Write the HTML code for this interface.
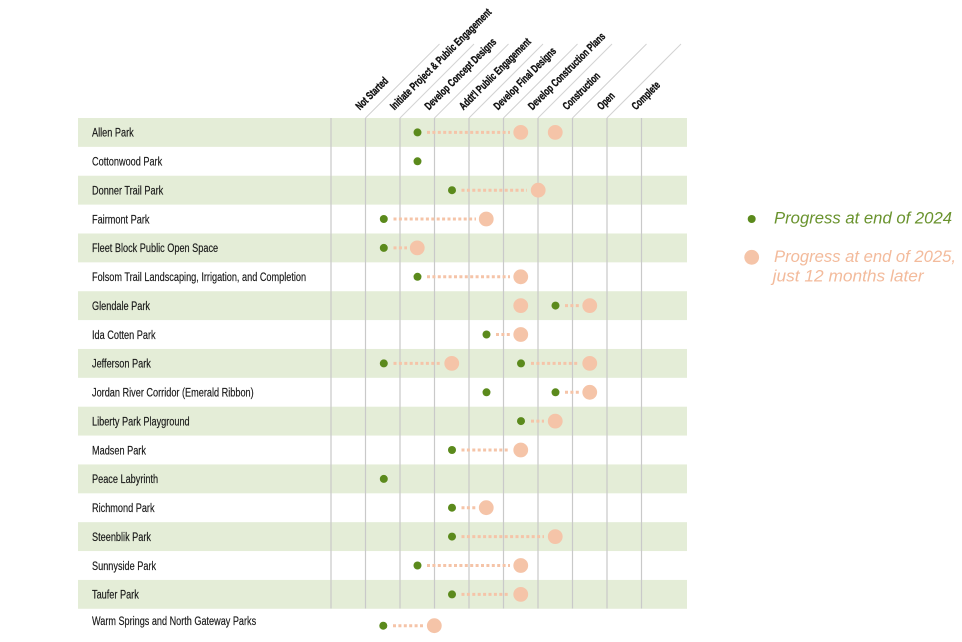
<!DOCTYPE html>
<html><head><meta charset="utf-8"><style>
html,body{margin:0;padding:0;background:#fff;}
svg{display:block;}
.lbl{font-family:"Liberation Sans",sans-serif;font-size:12px;fill:#161616;stroke:#161616;stroke-width:0.15;}
.hd{font-family:"Liberation Sans",sans-serif;font-size:11px;font-weight:bold;fill:#111;stroke:#111;stroke-width:0.35;}
.lg{font-family:"Liberation Sans",sans-serif;font-style:italic;font-size:16.5px;}
</style></head><body>
<svg width="962" height="642" viewBox="0 0 962 642" xmlns="http://www.w3.org/2000/svg">
<!-- bands -->
<g fill="#e4edd7">
<rect x="78" y="118" width="609" height="28.87"/>
<rect x="78" y="175.74" width="609" height="28.87"/>
<rect x="78" y="233.48" width="609" height="28.87"/>
<rect x="78" y="291.22" width="609" height="28.87"/>
<rect x="78" y="348.96" width="609" height="28.87"/>
<rect x="78" y="406.7" width="609" height="28.87"/>
<rect x="78" y="464.44" width="609" height="28.87"/>
<rect x="78" y="522.18" width="609" height="28.87"/>
<rect x="78" y="579.92" width="609" height="28.87"/>
</g>
<!-- vertical lines -->
<g stroke="#c9c9c9" stroke-width="1.2">
<line x1="331" y1="118" x2="331" y2="608.5"/>
<line x1="365.5" y1="118" x2="365.5" y2="608.5"/>
<line x1="400" y1="118" x2="400" y2="608.5"/>
<line x1="434.5" y1="118" x2="434.5" y2="608.5"/>
<line x1="469" y1="118" x2="469" y2="608.5"/>
<line x1="503.5" y1="118" x2="503.5" y2="608.5"/>
<line x1="538" y1="118" x2="538" y2="608.5"/>
<line x1="572.5" y1="118" x2="572.5" y2="608.5"/>
<line x1="607" y1="118" x2="607" y2="608.5"/>
<line x1="641.5" y1="118" x2="641.5" y2="608.5"/>
</g>
<!-- diagonals -->
<g stroke="#d2d2d2" stroke-width="1">
<line x1="365.5" y1="118" x2="439.5" y2="44"/>
<line x1="400" y1="118" x2="474" y2="44"/>
<line x1="434.5" y1="118" x2="508.5" y2="44"/>
<line x1="469" y1="118" x2="543" y2="44"/>
<line x1="503.5" y1="118" x2="577.5" y2="44"/>
<line x1="538" y1="118" x2="612" y2="44"/>
<line x1="572.5" y1="118" x2="646.5" y2="44"/>
<line x1="607" y1="118" x2="681" y2="44"/>
</g>
<!-- headers -->
<g class="hd">
<text transform="translate(360,110.5) rotate(-45) scale(0.69,1)">Not Started</text>
<text transform="translate(394.5,110.5) rotate(-45) scale(0.72,1)">Initiate Project &amp; Public Engagement</text>
<text transform="translate(429,110.5) rotate(-45) scale(0.71,1)">Develop Concept Designs</text>
<text transform="translate(463.5,110.5) rotate(-45) scale(0.71,1)">Addt'l Public Engagement</text>
<text transform="translate(498,110.5) rotate(-45) scale(0.71,1)">Develop Final Designs</text>
<text transform="translate(532.5,110.5) rotate(-45) scale(0.71,1)">Develop Construction Plans</text>
<text transform="translate(567,110.5) rotate(-45) scale(0.70,1)">Construction</text>
<text transform="translate(601.5,110.5) rotate(-45) scale(0.70,1)">Open</text>
<text transform="translate(636,110.5) rotate(-45) scale(0.70,1)">Complete</text>
</g>
<!-- row labels -->
<g class="lbl">
<text transform="translate(92,136.7) scale(0.764,1)">Allen Park</text>
<text transform="translate(92,165.6) scale(0.764,1)">Cottonwood Park</text>
<text transform="translate(92,194.5) scale(0.764,1)">Donner Trail Park</text>
<text transform="translate(92,223.3) scale(0.764,1)">Fairmont Park</text>
<text transform="translate(92,252.2) scale(0.764,1)">Fleet Block Public Open Space</text>
<text transform="translate(92,281.1) scale(0.764,1)">Folsom Trail Landscaping, Irrigation, and Completion</text>
<text transform="translate(92,309.9) scale(0.764,1)">Glendale Park</text>
<text transform="translate(92,338.8) scale(0.764,1)">Ida Cotten Park</text>
<text transform="translate(92,367.7) scale(0.764,1)">Jefferson Park</text>
<text transform="translate(92,396.6) scale(0.764,1)">Jordan River Corridor (Emerald Ribbon)</text>
<text transform="translate(92,425.4) scale(0.764,1)">Liberty Park Playground</text>
<text transform="translate(92,454.3) scale(0.764,1)">Madsen Park</text>
<text transform="translate(92,483.2) scale(0.764,1)">Peace Labyrinth</text>
<text transform="translate(92,512) scale(0.764,1)">Richmond Park</text>
<text transform="translate(92,540.9) scale(0.764,1)">Steenblik Park</text>
<text transform="translate(92,569.8) scale(0.764,1)">Sunnyside Park</text>
<text transform="translate(92,598.7) scale(0.764,1)">Taufer Park</text>
<text transform="translate(92,625) scale(0.76,1)">Warm Springs and North Gateway Parks</text>
</g>
<!-- dotted connectors -->
<g stroke="#f5c4a8" stroke-width="3" stroke-dasharray="3 2.4">
<line x1="427" y1="132.4" x2="510" y2="132.4"/>
<line x1="461.5" y1="190.2" x2="527" y2="190.2"/>
<line x1="393.5" y1="219" x2="476" y2="219"/>
<line x1="393.5" y1="247.9" x2="407" y2="247.9"/>
<line x1="427" y1="276.8" x2="510" y2="276.8"/>
<line x1="565" y1="305.6" x2="579" y2="305.6"/>
<line x1="496" y1="334.5" x2="510" y2="334.5"/>
<line x1="393.5" y1="363.4" x2="441" y2="363.4"/>
<line x1="531" y1="363.4" x2="579" y2="363.4"/>
<line x1="565" y1="392.3" x2="579" y2="392.3"/>
<line x1="531" y1="421.1" x2="544" y2="421.1"/>
<line x1="461.5" y1="450" x2="510" y2="450"/>
<line x1="461.5" y1="507.7" x2="476" y2="507.7"/>
<line x1="461.5" y1="536.6" x2="544" y2="536.6"/>
<line x1="427" y1="565.5" x2="510" y2="565.5"/>
<line x1="461.5" y1="594.4" x2="510" y2="594.4"/>
<line x1="393" y1="625.7" x2="424" y2="625.7"/>
</g>
<!-- peach dots -->
<g fill="#f5c4a8">
<circle cx="520.75" cy="132.4" r="7.4"/>
<circle cx="555.25" cy="132.4" r="7.4"/>
<circle cx="538.2" cy="190.2" r="7.4"/>
<circle cx="486.25" cy="219" r="7.4"/>
<circle cx="417.25" cy="247.9" r="7.4"/>
<circle cx="520.75" cy="276.8" r="7.4"/>
<circle cx="520.75" cy="305.6" r="7.4"/>
<circle cx="589.75" cy="305.6" r="7.4"/>
<circle cx="520.75" cy="334.5" r="7.4"/>
<circle cx="451.75" cy="363.4" r="7.4"/>
<circle cx="589.75" cy="363.4" r="7.4"/>
<circle cx="589.75" cy="392.3" r="7.4"/>
<circle cx="555.25" cy="421.1" r="7.4"/>
<circle cx="520.75" cy="450" r="7.4"/>
<circle cx="486.25" cy="507.7" r="7.4"/>
<circle cx="555.25" cy="536.6" r="7.4"/>
<circle cx="520.75" cy="565.5" r="7.4"/>
<circle cx="520.75" cy="594.4" r="7.4"/>
<circle cx="434.3" cy="625.7" r="7.4"/>
</g>
<!-- green dots -->
<g fill="#5b8a1c">
<circle cx="417.5" cy="132.4" r="4"/>
<circle cx="417.5" cy="161.3" r="4"/>
<circle cx="452" cy="190.2" r="4"/>
<circle cx="383.8" cy="219" r="4"/>
<circle cx="383.8" cy="247.9" r="4"/>
<circle cx="417.5" cy="276.8" r="4"/>
<circle cx="555.5" cy="305.6" r="4"/>
<circle cx="486.5" cy="334.5" r="4"/>
<circle cx="383.8" cy="363.4" r="4"/>
<circle cx="521" cy="363.4" r="4"/>
<circle cx="486.5" cy="392.3" r="4"/>
<circle cx="555.5" cy="392.3" r="4"/>
<circle cx="521" cy="421.1" r="4"/>
<circle cx="452" cy="450" r="4"/>
<circle cx="383.8" cy="478.9" r="4"/>
<circle cx="452" cy="507.7" r="4"/>
<circle cx="452" cy="536.6" r="4"/>
<circle cx="417.5" cy="565.5" r="4"/>
<circle cx="452" cy="594.4" r="4"/>
<circle cx="383.3" cy="625.7" r="4"/>
</g>
<!-- legend -->
<circle cx="751.7" cy="219" r="4" fill="#5b8a1c"/>
<text class="lg" x="774" y="223.3" fill="#6a932e" textLength="178" lengthAdjust="spacingAndGlyphs">Progress at end of 2024</text>
<circle cx="751.7" cy="257.3" r="7.4" fill="#f5c4a8"/>
<text class="lg" x="774" y="262" fill="#f3bb9c" textLength="182" lengthAdjust="spacingAndGlyphs">Progress at end of 2025,</text>
<text class="lg" x="772.7" y="281.5" fill="#f3bb9c" textLength="151" lengthAdjust="spacingAndGlyphs">just 12 months later</text>
</svg>
</body></html>
